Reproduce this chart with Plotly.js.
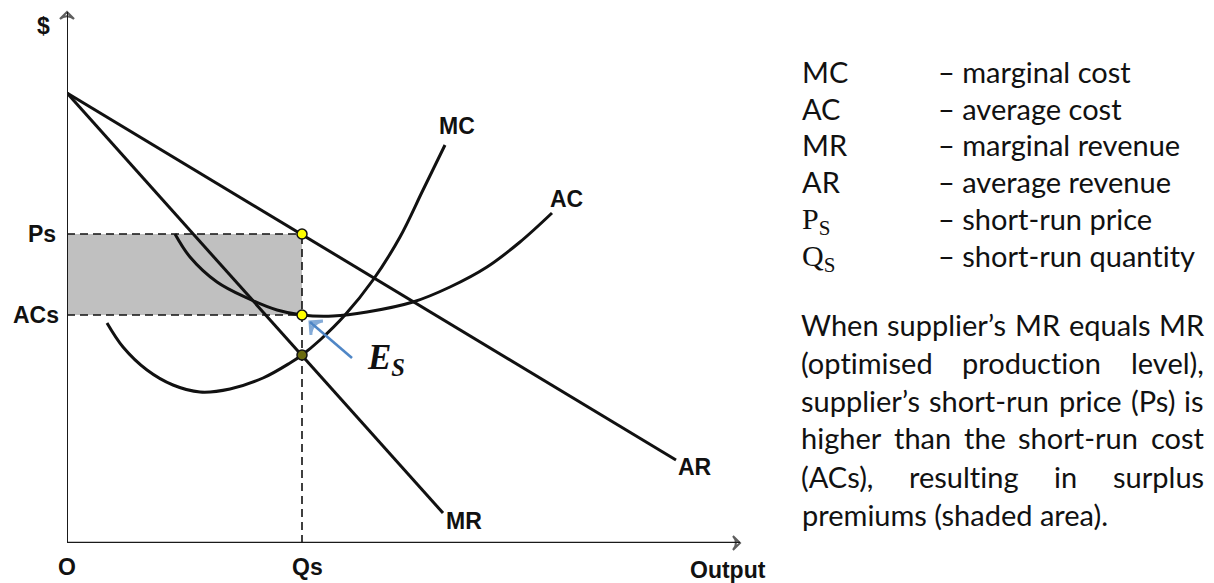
<!DOCTYPE html>
<html>
<head>
<meta charset="utf-8">
<script src="https://cdn.plot.ly/plotly-3.0.1.min.js"></script>
<style>
html, body { margin: 0; padding: 0; background: #ffffff; }
#chart { width: 1214px; height: 583px; }
text { font-variant-ligatures: none; font-feature-settings: "liga" 0, "clig" 0; }
</style>
</head>
<body>
<div id="chart"></div>
<script>
// ---------------- DATA (units = offset from origin O) ----------------
const xMax = 673;           // end of the Output axis
const yMax = 531;           // end of the $ axis
const qs = 235;             // short-run quantity Qs
const ps = 309;             // short-run price Ps
const acs = 228;            // short-run average cost ACs
const mcAtQs = 188;         // MC = MR at Qs

const arX = [0, 609];
const arY = [450, 83];

const mrX = [0, 376];
const mrY = [450, 30];

const acX = [108, 123, 150, 180, 210, 235, 266, 300, 346, 383, 420, 453, 485];
const acY = [309, 286, 261, 245, 233, 228, 227, 231, 241, 256, 276, 301, 330];

const mcX = [40, 56, 80, 106, 133, 163, 196, 223, 235, 253, 278, 306, 333, 356, 378];
const mcY = [220, 196, 173, 158, 151, 154, 165, 180, 188, 203, 228, 263, 306, 353, 398];

// E_S pointer: from tail to head (near the ACs point)
const esArrowX = [qs + 50, qs + 8];
const esArrowY = [acs - 43, acs - 7];

const legendTerms = ['MC', 'AC', 'MR', 'AR', 'P<sub>S</sub>', 'Q<sub>S</sub>'];
const legendDefs = ['– marginal cost', '– average cost', '– marginal revenue',
                    '– average revenue', '– short-run price', '– short-run quantity'];
const paraLines = [
  'When supplier’s MR equals MR',
  '(optimised production level),',
  'supplier’s short-run price (Ps) is',
  'higher than the short-run cost',
  '(ACs), resulting in surplus',
  'premiums (shaded area).'
];

// ---------------- LAYOUT HELPERS ----------------
const W = 1214, H = 583;
const M = { l: 67, r: 474, t: 12, b: 40 };
const plotW = W - M.l - M.r, plotH = H - M.t - M.b;
const pxX = p => (p - M.l) / plotW;
const pxY = p => (H - M.b - p) / plotH;

const black = '#111111';
const axisColor = '#1a1a1a';
const labelFont = { family: 'Liberation Sans, Arial, sans-serif', size: 23, color: black };
const textFont = { family: 'Lato, sans-serif', size: 29, color: black };
const serifFont = { family: 'Liberation Serif, DejaVu Serif, serif', size: 30, color: black };

// ---------------- TRACES ----------------
const dashed = { color: black, width: 1.6, dash: '8px,5px' };
const traces = [
  { // shaded surplus area
    x: [0, qs, qs, 0, 0], y: [acs, acs, ps, ps, acs],
    type: 'scatter', mode: 'lines', fill: 'toself', fillcolor: '#c0c0c0',
    line: { width: 0 }, hoverinfo: 'skip'
  },
  { x: [0, qs], y: [ps, ps], type: 'scatter', mode: 'lines', line: dashed },
  { x: [0, qs], y: [acs, acs], type: 'scatter', mode: 'lines', line: dashed },
  { x: [qs, qs], y: [0, ps], type: 'scatter', mode: 'lines', line: dashed },
  { x: arX, y: arY, type: 'scatter', mode: 'lines', line: { color: black, width: 3 } },
  { x: mrX, y: mrY, type: 'scatter', mode: 'lines', line: { color: black, width: 3 } },
  { x: acX, y: acY, type: 'scatter', mode: 'lines',
    line: { color: black, width: 3, shape: 'spline', smoothing: 1 } },
  { x: mcX, y: mcY, type: 'scatter', mode: 'lines',
    line: { color: black, width: 3, shape: 'spline', smoothing: 1 } },
  // axes with arrow tips
  { x: [0, 0], y: [0, yMax], type: 'scatter', mode: 'lines+markers', cliponaxis: false,
    line: { color: axisColor, width: 2 },
    marker: { symbol: 'arrow-wide-open', angleref: 'previous', size: [0, 10], color: axisColor,
              line: { color: axisColor, width: 2 } } },
  { x: [0, xMax], y: [0, 0], type: 'scatter', mode: 'lines+markers', cliponaxis: false,
    line: { color: axisColor, width: 2.4 },
    marker: { symbol: 'arrow-wide-open', angleref: 'previous', size: [0, 10], color: axisColor,
              line: { color: axisColor, width: 2 } } },
  // E_S pointer
  { x: esArrowX, y: esArrowY, type: 'scatter', mode: 'lines+markers', cliponaxis: false,
    line: { color: '#4f86c6', width: 2.6 },
    marker: { symbol: 'arrow-wide-open', angleref: 'previous', size: [0, 13], color: '#4f86c6',
              line: { color: '#4f86c6', width: 3 } } },
  // points
  { x: [qs, qs], y: [ps, acs], type: 'scatter', mode: 'markers', cliponaxis: false,
    marker: { size: 10, color: '#ffff00', line: { color: black, width: 1.5 } } },
  { x: [qs], y: [mcAtQs], type: 'scatter', mode: 'markers', cliponaxis: false,
    marker: { size: 10, color: '#6b6b0e', line: { color: black, width: 1.5 } } }
];

// ---------------- ANNOTATIONS ----------------
const ann = [];
const lab = (text, x, y, opts) => Object.assign({ text: '<b>' + text + '</b>', x: x, y: y,
  xref: 'x', yref: 'y', showarrow: false, font: labelFont }, opts || {});
ann.push(lab('$', 0, yMax, { xshift: -24, yshift: -14 }));
ann.push(lab('Ps', 0, ps, { xanchor: 'right', xshift: -9 }));
ann.push(lab('ACs', 0, acs, { xanchor: 'right', xshift: -6 }));
ann.push(lab('O', 0, 0, { yshift: -24 }));
ann.push(lab('Qs', qs, 0, { xshift: 5, yshift: -24 }));
ann.push(lab('Output', xMax, 0, { xshift: -12, yshift: -27 }));

// curve labels
ann.push(lab('MC', mcX[mcX.length - 1], mcY[mcY.length - 1], { xshift: 12, yshift: 19 }));
ann.push(lab('AC', acX[acX.length - 1], acY[acY.length - 1], { xshift: 14, yshift: 14 }));
ann.push(lab('AR', arX[1], arY[1], { xshift: 19, yshift: -7 }));
ann.push(lab('MR', mrX[1], mrY[1], { xshift: 21, yshift: -8 }));

// E_S label
ann.push({ x: qs, y: mcAtQs, xref: 'x', yref: 'y', showarrow: false, xanchor: 'left',
  xshift: 63, yshift: -4, text: '<b><i>E<sub>S</sub></i></b>',
  font: { family: 'Liberation Serif, DejaVu Serif, serif', size: 35, color: black } });

// legend block on the right
const legendRows = [71, 108, 145, 181, 218, 255];
legendTerms.forEach((t, i) => {
  const isSerif = t.indexOf('<sub>') >= 0;
  ann.push({ text: t, xref: 'paper', yref: 'paper', x: pxX(800), y: pxY(legendRows[i] + (isSerif ? 3 : 0)),
    xanchor: 'left', yanchor: 'middle', showarrow: false, font: isSerif ? serifFont : textFont });
  ann.push({ text: legendDefs[i], xref: 'paper', yref: 'paper', x: pxX(936), y: pxY(legendRows[i]),
    xanchor: 'left', yanchor: 'middle', showarrow: false, font: textFont });
});

// justified paragraph
const canvas = document.createElement('canvas');
const ctx = canvas.getContext('2d');
ctx.font = textFont.size + 'px Lato';
const paraLeft = 800, paraRight = 1203, paraTop = 324, paraStep = 38;
paraLines.forEach((line, i) => {
  const yc = paraTop + i * paraStep;
  const words = line.split(' ');
  const last = i === paraLines.length - 1;
  if (last) {
    ann.push({ text: line, xref: 'paper', yref: 'paper', x: pxX(paraLeft), y: pxY(yc),
      xanchor: 'left', yanchor: 'middle', showarrow: false, font: textFont });
    return;
  }
  const widths = words.map(w => ctx.measureText(w).width);
  const total = widths.reduce((a, b) => a + b, 0);
  const gap = (paraRight - paraLeft - total) / (words.length - 1);
  let cur = paraLeft;
  words.forEach((w, k) => {
    ann.push({ text: w, xref: 'paper', yref: 'paper', x: pxX(cur), y: pxY(yc),
      xanchor: 'left', yanchor: 'middle', showarrow: false, font: textFont, borderpad: 0 });
    cur += widths[k] + gap;
  });
});

const layout = {
  width: W, height: H,
  margin: M,
  paper_bgcolor: '#ffffff', plot_bgcolor: '#ffffff',
  showlegend: false,
  xaxis: { range: [0, xMax], visible: false, fixedrange: true },
  yaxis: { range: [0, yMax], visible: false, fixedrange: true },
  annotations: ann
};

Plotly.newPlot('chart', traces, layout, { displayModeBar: false, staticPlot: true });
</script>
</body>
</html>
